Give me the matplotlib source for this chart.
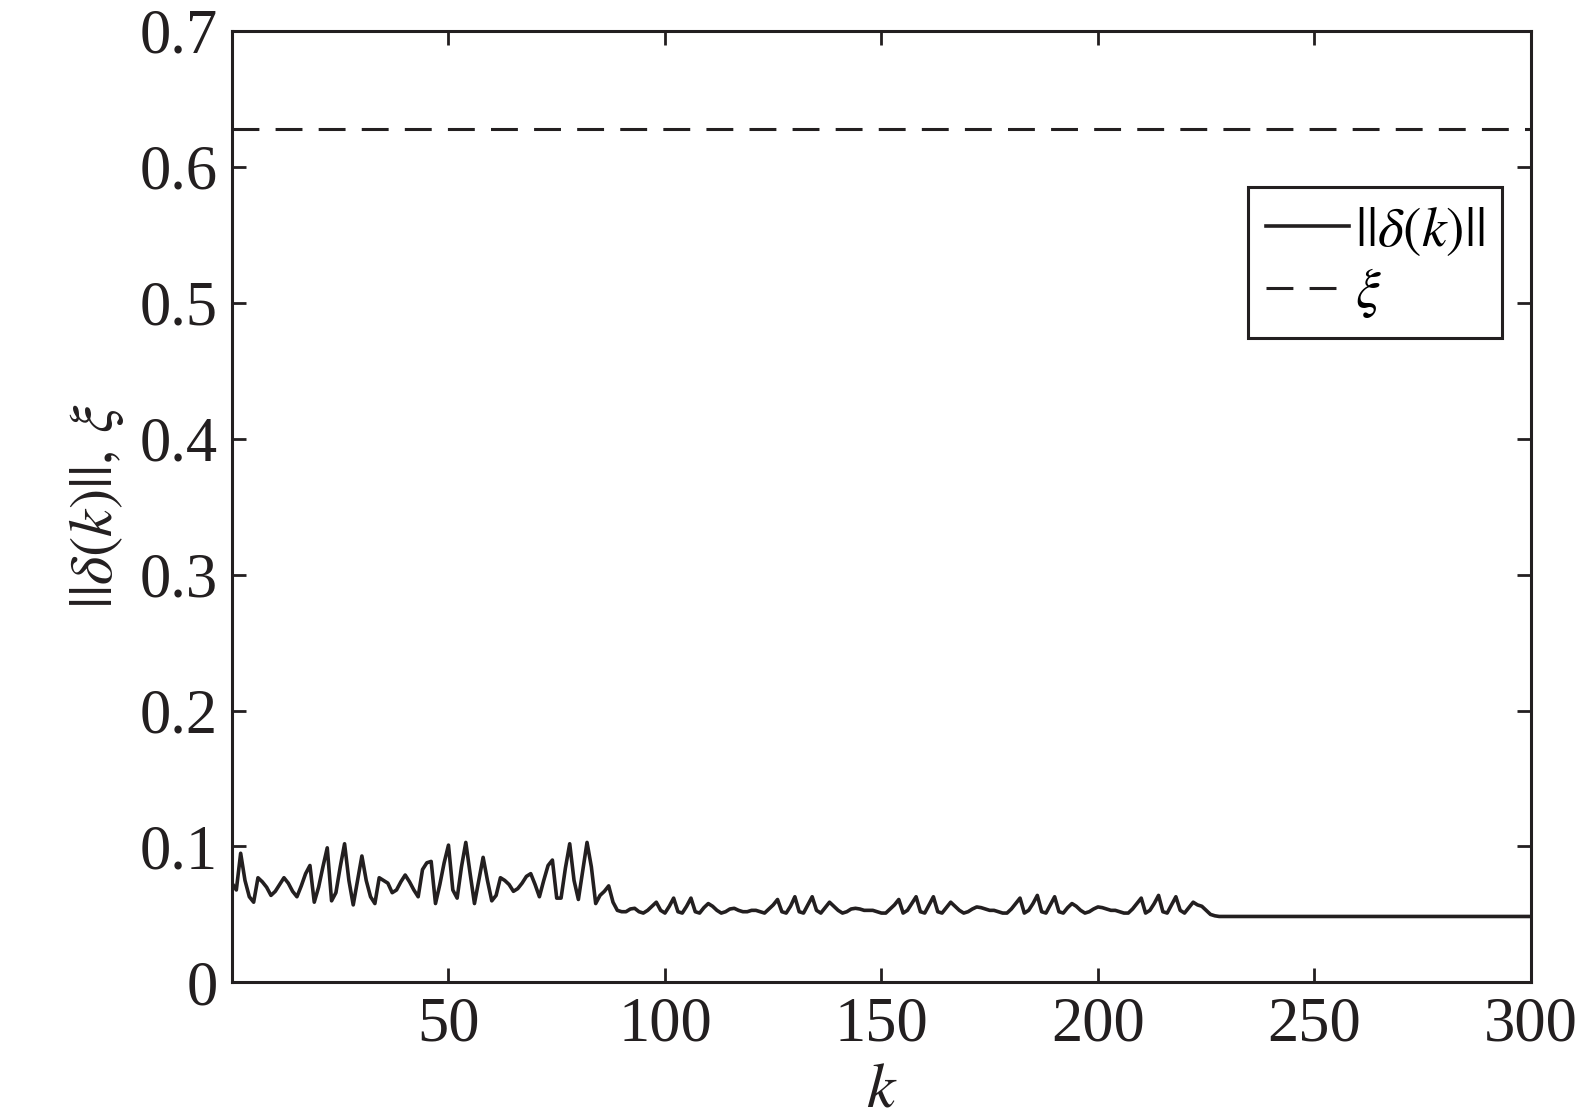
import matplotlib
matplotlib.use("Agg")
import matplotlib.pyplot as plt
import numpy as np

plt.rcParams['font.family'] = ['Liberation Serif', 'DejaVu Serif']
plt.rcParams['mathtext.fontset'] = 'stix'

# ||delta(k)||, k = 0..89
delta_early = [
    0.073, 0.068, 0.095, 0.075, 0.063, 0.059, 0.077, 0.074, 0.070, 0.064,
    0.067, 0.072, 0.077, 0.073, 0.067, 0.063, 0.071, 0.080, 0.086, 0.059,
    0.070, 0.085, 0.099, 0.060, 0.066, 0.085, 0.102, 0.075, 0.057, 0.075,
    0.093, 0.075, 0.063, 0.058, 0.077, 0.075, 0.073, 0.066, 0.068, 0.074,
    0.079, 0.074, 0.068, 0.063, 0.083, 0.088, 0.089, 0.058, 0.072, 0.088,
    0.101, 0.068, 0.062, 0.085, 0.103, 0.080, 0.058, 0.075, 0.092, 0.075,
    0.060, 0.064, 0.077, 0.075, 0.072, 0.067, 0.069, 0.073, 0.078, 0.080,
    0.072, 0.063, 0.075, 0.086, 0.090, 0.062, 0.062, 0.084, 0.102, 0.075,
    0.061, 0.082, 0.103, 0.085, 0.058, 0.064, 0.067, 0.071, 0.059, 0.053,
]
# k = 90..227
delta_mid = [
    0.052, 0.052, 0.054, 0.0545, 0.052, 0.051, 0.053, 0.056, 0.059, 0.053,
    0.051, 0.056, 0.062, 0.052, 0.051, 0.056, 0.062, 0.052, 0.051, 0.055,
    0.058, 0.056, 0.053, 0.051, 0.052, 0.054, 0.0545, 0.053, 0.052, 0.052,
    0.053, 0.053, 0.052, 0.051, 0.054, 0.057, 0.061, 0.052, 0.051, 0.056,
    0.063, 0.052, 0.051, 0.057, 0.063, 0.053, 0.051, 0.055, 0.059, 0.056,
    0.053, 0.051, 0.052, 0.054, 0.0545, 0.054, 0.053, 0.053, 0.053, 0.052,
    0.051, 0.051, 0.054, 0.057, 0.061, 0.051, 0.053, 0.058, 0.063, 0.052,
    0.051, 0.057, 0.063, 0.052, 0.051, 0.055, 0.059, 0.056, 0.053, 0.051,
    0.052, 0.054, 0.0555, 0.055, 0.054, 0.053, 0.053, 0.052, 0.051, 0.051,
    0.054, 0.058, 0.062, 0.051, 0.053, 0.058, 0.064, 0.052, 0.051, 0.057,
    0.063, 0.052, 0.051, 0.055, 0.058, 0.056, 0.053, 0.051, 0.052, 0.054,
    0.0555, 0.055, 0.054, 0.053, 0.053, 0.052, 0.051, 0.051, 0.054, 0.058,
    0.062, 0.051, 0.053, 0.058, 0.064, 0.052, 0.051, 0.057, 0.063, 0.053,
    0.051, 0.055, 0.059, 0.057, 0.056, 0.053, 0.050, 0.049,
]
# k = 228..300, settled
delta_tail = [
    0.0485, 0.0485, 0.0485, 0.0485, 0.0485, 0.0485, 0.0485, 0.0485, 0.0485, 0.0485,
    0.0485, 0.0485, 0.0485, 0.0485, 0.0485, 0.0485, 0.0485, 0.0485, 0.0485, 0.0485,
    0.0485, 0.0485, 0.0485, 0.0485, 0.0485, 0.0485, 0.0485, 0.0485, 0.0485, 0.0485,
    0.0485, 0.0485, 0.0485, 0.0485, 0.0485, 0.0485, 0.0485, 0.0485, 0.0485, 0.0485,
    0.0485, 0.0485, 0.0485, 0.0485, 0.0485, 0.0485, 0.0485, 0.0485, 0.0485, 0.0485,
    0.0485, 0.0485, 0.0485, 0.0485, 0.0485, 0.0485, 0.0485, 0.0485, 0.0485, 0.0485,
    0.0485, 0.0485, 0.0485, 0.0485, 0.0485, 0.0485, 0.0485, 0.0485, 0.0485, 0.0485,
    0.0485, 0.0485, 0.0485,
]
xi = 0.628

xticks = [50, 100, 150, 200, 250, 300]
yticks = [0, 0.1, 0.2, 0.3, 0.4, 0.5, 0.6, 0.7]
ytick_labels = ['0', '0.1', '0.2', '0.3', '0.4', '0.5', '0.6', '0.7']

delta = np.array(delta_early + delta_mid + delta_tail)
k = np.arange(len(delta))

ink = '#231f20'
fig = plt.figure(figsize=(15.75, 11.18), dpi=100)
ax = fig.add_axes([0.1473, 0.1213, 0.8247, 0.851])

ax.plot(k, delta, color=ink, lw=2.6, label=r'$||\delta(k)||$')
ax.plot([0, 300], [xi, xi], color=ink, lw=2.2, dashes=(8.8, 5.3),
        label=r'$\xi$')

ax.set_xlim(0, 300)
ax.set_ylim(0, 0.7)
ax.set_xticks(xticks)
ax.set_yticks(yticks)
ax.set_yticklabels(ytick_labels)
ax.tick_params(direction='in', length=10, width=2, labelsize=45,
               top=True, right=True, pad=10, colors=ink)
for s in ax.spines.values():
    s.set_linewidth(2.2)
    s.set_color(ink)

ax.set_xlabel(r'$k$', fontsize=46, labelpad=6, color=ink)
ax.set_ylabel(r'$||\delta(k)||,\,\xi$', fontsize=44, labelpad=10, color=ink)

leg = ax.legend(loc='upper right', bbox_to_anchor=(0.978, 0.836), fontsize=40,
                frameon=True, fancybox=False, edgecolor=ink, framealpha=1,
                handlelength=1.5, handletextpad=0.1, borderpad=0.32,
                labelspacing=0.15, borderaxespad=0)
leg.get_frame().set_linewidth(2.2)

fig.savefig('out.png', dpi=100)
